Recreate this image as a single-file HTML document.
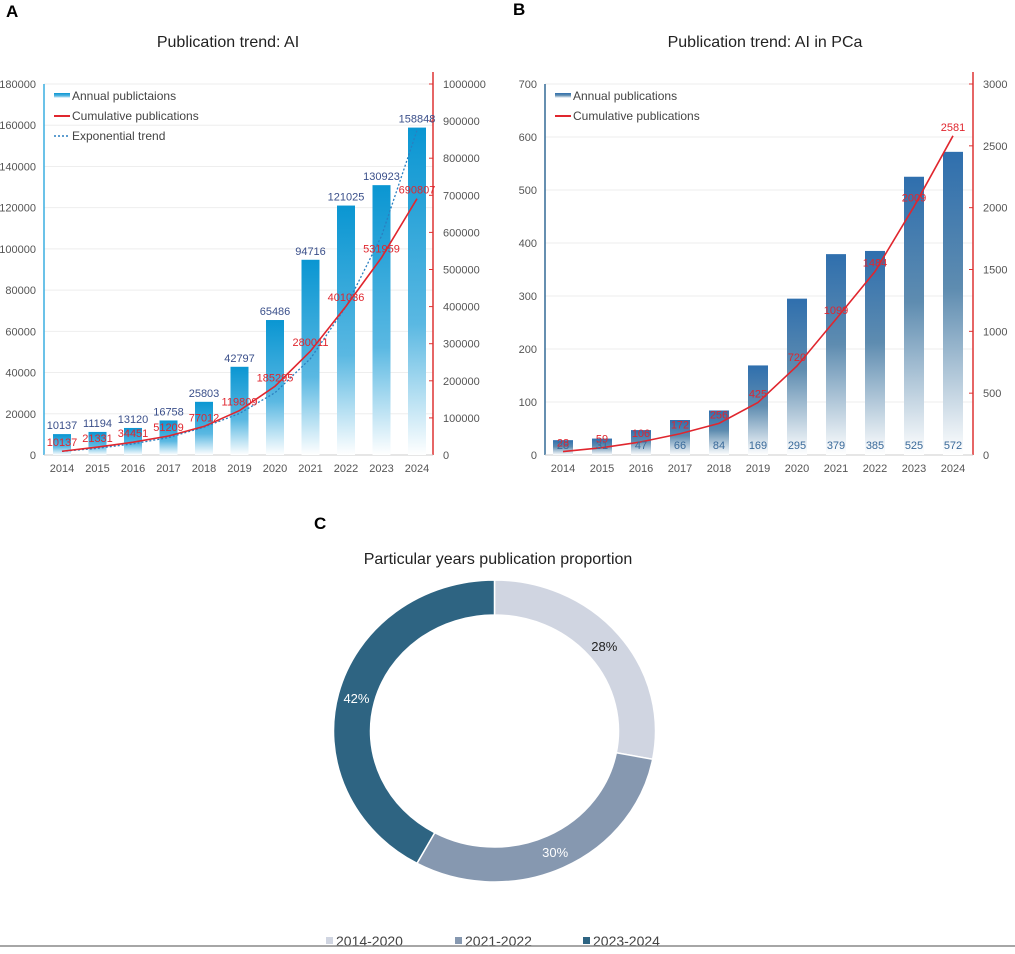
<!DOCTYPE html>
<html><head><meta charset="utf-8">
<style>
body{margin:0;background:#fff;width:1015px;height:949px;overflow:hidden;font-family:"Liberation Sans",sans-serif}
svg text{font-family:"Liberation Sans",sans-serif}
</style></head>
<body>
<svg id="s" width="1015" height="949" viewBox="0 0 1015 949" xmlns="http://www.w3.org/2000/svg">
<defs>
<linearGradient id="gA" x1="0" y1="0" x2="0" y2="1"><stop offset="0" stop-color="#0a96d2"/><stop offset="0.6" stop-color="#5ab8e2"/><stop offset="1" stop-color="#ffffff"/></linearGradient>
<linearGradient id="gB" x1="0" y1="0" x2="0" y2="1"><stop offset="0" stop-color="#2f6fae"/><stop offset="0.45" stop-color="#5e8cb0"/><stop offset="1" stop-color="#ffffff"/></linearGradient>
</defs>
<text x="6" y="17" font-size="17" font-weight="bold">A</text>
<text x="513" y="15" font-size="17" font-weight="bold">B</text>
<text x="314" y="529" font-size="17" font-weight="bold">C</text>
<text x="228" y="47" font-size="16" text-anchor="middle" fill="#222">Publication trend: AI</text>
<text x="765" y="47" font-size="16" text-anchor="middle" fill="#222">Publication trend: AI in PCa</text>
<text x="498" y="564" font-size="16" text-anchor="middle" fill="#222">Particular years publication proportion</text>
<g id="pa"></g>
<g id="pb"></g>
<g id="pc"></g>
<line x1="0" y1="946" x2="1015" y2="946" stroke="#888" stroke-width="1.5"/>
</svg>
<script>
const years = ["2014","2015","2016","2017","2018","2019","2020","2021","2022","2023","2024"];
const annualA = [10137,11194,13120,16758,25803,42797,65486,94716,121025,130923,158848];
const cumA = [10137,21331,34451,51209,77012,119809,185295,280011,401036,531959,690807];
const trendA = [10000,18000,30000,47000,75000,112000,168000,260000,400000,590000,875000];
const leftTicksA = [0,20000,40000,60000,80000,100000,120000,140000,160000,180000];
const rightTicksA = [0,100000,200000,300000,400000,500000,600000,700000,800000,900000,1000000];
const annualB = [28,31,47,66,84,169,295,379,385,525,572];
const cumB = [28,59,106,172,256,425,720,1099,1484,2009,2581];
const leftTicksB = [0,100,200,300,400,500,600,700];
const rightTicksB = [0,500,1000,1500,2000,2500,3000];
const sliceLabels = ["2014-2020","2021-2022","2023-2024"];
const sliceValues = [28,30,42];
const NS="http://www.w3.org/2000/svg";
function mk(p,tag,a,txt){const e=document.createElementNS(NS,tag);for(const k in a)e.setAttribute(k,a[k]);if(txt!==undefined)e.textContent=txt;p.appendChild(e);return e;}

function chart(g,o){
  const y0=455,y1=84;
  const yL=v=>y0-(v/o.lmax)*(y0-y1);
  const yR=v=>y0-(v/o.rmax)*(y0-y1);
  const x=i=>o.x0+i*(o.x1-o.x0)/(years.length-1);
  o.lt.forEach(t=>{
    let e=mk(g,'line',{x1:o.ax,x2:o.rx,y1:yL(t),y2:yL(t),stroke:'#eee'});
    
    e=mk(g,'text',{x:o.ax-8,y:yL(t)+4,'font-size':11,'text-anchor':'end',fill:'#555'},String(t));
    
  });
  o.rt.forEach(t=>{
    let e=mk(g,'line',{x1:o.rx,x2:o.rx-4,y1:yR(t),y2:yR(t),stroke:'#d33'});
    
    e=mk(g,'text',{x:o.rx+10,y:yR(t)+4,'font-size':11,fill:'#555'},String(t));
    
  });
  let e=mk(g,'line',{x1:o.ax,x2:o.ax,y1:y1,y2:y0,stroke:o.axc,'stroke-width':1.5});
  
  e=mk(g,'line',{x1:o.rx,x2:o.rx,y1:y1-12,y2:y0,stroke:'#d33','stroke-width':1.5});
  
  e=mk(g,'line',{x1:o.ax,x2:o.rx,y1:y0,y2:y0,stroke:'#ccc'});
  
  years.forEach((yr,i)=>{
    const b=mk(g,'rect',{x:x(i)-o.bw/2,y:yL(o.ann[i]),width:o.bw,height:y0-yL(o.ann[i]),fill:o.grad});
    
    const t=mk(g,'text',{x:x(i),y:y0+17,'font-size':11,'text-anchor':'middle',fill:'#555'},yr);
    
  });
  if(o.trend){
    const p=mk(g,'polyline',{points:o.trend.map((v,i)=>x(i)+','+yR(v)).join(' '),fill:'none',stroke:'#2a7fc0','stroke-width':1.3,'stroke-dasharray':'2,2'});
    
  }
  const l=mk(g,'polyline',{points:o.cum.map((v,i)=>x(i)+','+yR(v)).join(' '),fill:'none',stroke:'#e0262e','stroke-width':1.6});
  
  years.forEach((yr,i)=>{
    const ay=o.annBottom?y0-6:yL(o.ann[i])-5;
    let t=mk(g,'text',{x:x(i),y:ay,'font-size':11,'text-anchor':'middle',fill:o.annC},String(o.ann[i]));
    
    t=mk(g,'text',{x:x(i),y:yR(o.cum[i])-5,'font-size':11,'text-anchor':'middle',fill:'#e0262e'},String(o.cum[i]));
    
  });
  // legend
  o.leg.forEach((L,k)=>{
    const ly=96+k*20;
    let s;
    if(L[1]==='bar') s=mk(g,'rect',{x:o.ax+10,y:ly-3,width:16,height:5,fill:o.grad});
    else s=mk(g,'line',{x1:o.ax+10,x2:o.ax+26,y1:ly,y2:ly,stroke:L[2],'stroke-width':L[1]==='dot'?1.5:2,'stroke-dasharray':L[1]==='dot'?'2,2':''});
    
    const t=mk(g,'text',{x:o.ax+28,y:ly+4,'font-size':12,fill:'#444'},L[0]);
    
  });
}
chart(document.getElementById('pa'),{ax:44,rx:433,x0:62,x1:417,bw:18,lmax:180000,rmax:1000000,lt:leftTicksA,rt:rightTicksA,ann:annualA,cum:cumA,trend:trendA,grad:'url(#gA)',axc:'#3aaee0',annC:'#3a4f8a',
 leg:[["Annual publictaions","bar"],["Cumulative publications","line","#e0262e"],["Exponential trend","dot","#2a7fc0"]]});
chart(document.getElementById('pb'),{ax:545,rx:973,x0:563,x1:953,bw:20,lmax:700,rmax:3000,lt:leftTicksB,rt:rightTicksB,ann:annualB,cum:cumB,grad:'url(#gB)',axc:'#336a96',annC:'#3a6a9a',annBottom:true,
 leg:[["Annual publications","bar"],["Cumulative publications","line","#e0262e"]]});

// donut
(function(){
  const g=document.getElementById('pc');
  const cx=494.5,cy=731,rx=161,ry=151,irx=124,iry=116;
  const cols=['#d0d5e1','#8698b0','#2e6482'];
  const tcol=['#222','#fff','#fff'];
  const tot=sliceValues.reduce((a,b)=>a+b,0);
  let a=0;
  const P=(r1,r2,ang)=>[cx+r1*Math.sin(ang),cy-r2*Math.cos(ang)];
  sliceValues.forEach((v,i)=>{
    const a0=a/tot*2*Math.PI;a+=v;const a1=a/tot*2*Math.PI;
    const lg=(a1-a0)>Math.PI?1:0;
    const p1=P(rx,ry,a0),p2=P(rx,ry,a1),p3=P(irx,iry,a1),p4=P(irx,iry,a0);
    const d=`M${p1} A${rx},${ry} 0 ${lg} 1 ${p2} L${p3} A${irx},${iry} 0 ${lg} 0 ${p4} Z`;
    const s=mk(g,'path',{d:d,fill:cols[i],stroke:'#fff','stroke-width':1.5});
    
    const m=(a0+a1)/2;const lp=P((rx+irx)/2,(ry+iry)/2,m);
    const t=mk(g,'text',{x:lp[0],y:lp[1]+5,'font-size':13,'text-anchor':'middle',fill:tcol[i]},v+'%');
    
    const lx=[326,455,583][i];
    const sw=mk(g,'rect',{x:lx,y:937,width:7,height:7,fill:cols[i]});
    
    const lt=mk(g,'text',{x:lx+10,y:946,'font-size':14,fill:'#444'},sliceLabels[i]);
    
  });
})();
</script>
</body></html>
